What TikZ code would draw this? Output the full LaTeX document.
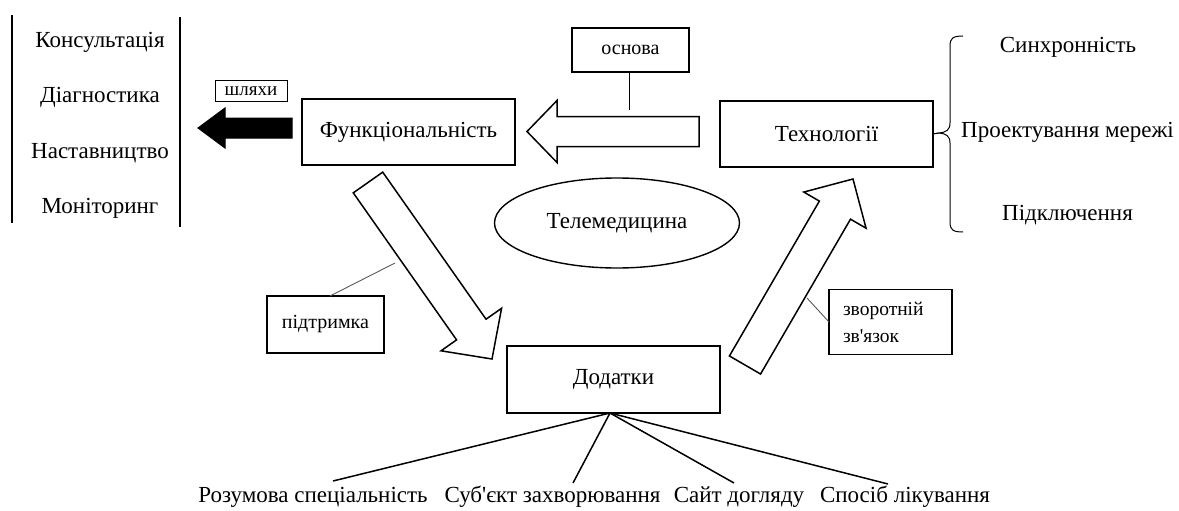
\documentclass[tikz,border=0pt]{standalone}
\usepackage{fontspec}
\IfFontExistsTF{LiberationSerif-Regular.ttf}
  {\newfontfamily\rmf{LiberationSerif-Regular.ttf}}
  {\newfontfamily\rmf{Liberation Serif}}
\usetikzlibrary{calc,shapes.geometric}
\newcommand\blockarrow[6][]{%
  \coordinate (ba-hb) at ($(#3)!#6!(#2)$);
  \draw[#1] ($(#2)!#4!90:(#3)$) -- ($(ba-hb)!#4!90:(#3)$) -- ($(ba-hb)!#5!90:(#3)$) -- (#3)
    -- ($(ba-hb)!#5!-90:(#3)$) -- ($(ba-hb)!#4!-90:(#3)$) -- ($(#2)!#4!-90:(#3)$) -- cycle;}
\tikzset{
  mainfont/.style={font=\rmf\fontsize{23}{27}\selectfont},
  smallfont/.style={font=\rmf\fontsize{20}{26}\selectfont},
  box/.style={draw, line width=1.6pt, inner sep=0pt, outer sep=0pt, mainfont},
  lbl/.style={draw, line width=1.4pt, inner sep=0pt, outer sep=0pt, smallfont},
  txt/.style={inner sep=0pt, mainfont},
  hollow/.style={draw, fill=white, line width=1.5pt, line join=miter},
  solidarrow/.style={draw, fill=black, line width=1pt},
  leader/.style={draw=black!65, line width=0.9pt},
  branch/.style={line width=1.5pt},
  rule/.style={line width=1.8pt},
}
\begin{document}
\begin{tikzpicture}[x=1pt,y=-1pt]
\useasboundingbox (0,0) rectangle (1179,511);
% left list
\draw[rule] (12,15) -- (12,223);
\draw[rule] (180,17) -- (180,227);
\node[txt] (l1) at (100,42) {Консультація};
\node[txt] (l2) at (100,97) {Діагностика};
\node[txt] (l3) at (100,153) {Наставництво};
\node[txt] (l4) at (100,208) {Моніторинг};
% boxes
\node[box, minimum width=213pt, minimum height=66pt] (func) at (408.5,132) {Функціональність};
\node[box, minimum width=213pt, minimum height=66pt] (tech) at (826.5,134) {Технології};
\node[box, minimum width=213pt, minimum height=67pt] (dod) at (613.5,379.5) {Додатки};
\node[draw, line width=1.4pt, ellipse, minimum width=245pt, minimum height=90pt, inner sep=0pt, mainfont] (tele) at (617,223) {Телемедицина};
% labels
\node[lbl, minimum width=117pt, minimum height=44pt] (osn) at (630.5,50) {основа};
\node[draw, line width=1pt, inner sep=0pt, minimum width=72pt, minimum height=21pt, font=\rmf\fontsize{19}{20}\selectfont] (shl) at (251,91.5) {шляхи};
\node[lbl, minimum width=117pt, minimum height=57pt] (pid) at (325.5,324.5) {підтримка};
\node[lbl, minimum width=123pt, minimum height=65pt, align=left, text width=95pt, font=\rmf\fontsize{19.5}{27}\selectfont] (zv) at (890.5,322) {зворотній\\зв'язок};
% arrows
\coordinate (a1t) at (292,128);
\coordinate (a1h) at (198,128);
\blockarrow[solidarrow]{a1t}{a1h}{10pt}{20pt}{27pt}
\coordinate (a2t) at (699,131.5);
\coordinate (a2h) at (527,131.5);
\blockarrow[hollow]{a2t}{a2h}{15pt}{31pt}{30pt}
\coordinate (a3t) at (368,182.5);
\coordinate (a3h) at (492,359);
\blockarrow[hollow]{a3t}{a3h}{18pt}{37pt}{36pt}
\coordinate (a4t) at (745,365);
\coordinate (a4h) at (853,179);
\blockarrow[hollow]{a4t}{a4h}{18pt}{36pt}{36pt}
% leaders
\coordinate (osnend) at (629,110);
\draw[line width=0.9pt] (osn.south -| osnend) -- (osnend);
\coordinate (pidend) at (395,263);
\draw[leader] (pid.north) ++(4.5,0) -- (pidend);
\coordinate (zvend) at (807,298);
\draw[leader] (zv.west) -- (zvend);
% brace
\coordinate (btip) at (939,133);
\draw[line width=1pt] (tech.east) -- (btip);
\draw[line width=1pt] (963,36) .. controls (953,36) and (950,38) .. (950,46) -- (950,123)
  .. controls (950,130) and (946,132.5) .. (btip)
  .. controls (946,133.5) and (950,136) .. (950,143) -- (950,222)
  .. controls (950,230) and (953,232) .. (963,232);
\node[txt] (r1) at (1068,47) {Синхронність};
\node[txt] (r2) at (1067.5,132) {Проектування мережі};
\node[txt] (r3) at (1067.5,215) {Підключення};
% bottom
\coordinate (apex) at (610,413);
\coordinate (b1) at (333,481);
\coordinate (b2) at (573,483);
\coordinate (b3) at (734,483);
\coordinate (b4) at (888,484);
\foreach \e in {b1,b2,b3,b4} \draw[branch] (apex) -- (\e);
\node[txt] (t1) at (313,497) {Розумова спеціальність};
\node[txt] (t2) at (552.5,497) {Суб'єкт захворювання};
\node[txt] (t3) at (739,497) {Сайт догляду};
\node[txt] (t4) at (905,497) {Спосіб лікування};
\end{tikzpicture}
\end{document}
